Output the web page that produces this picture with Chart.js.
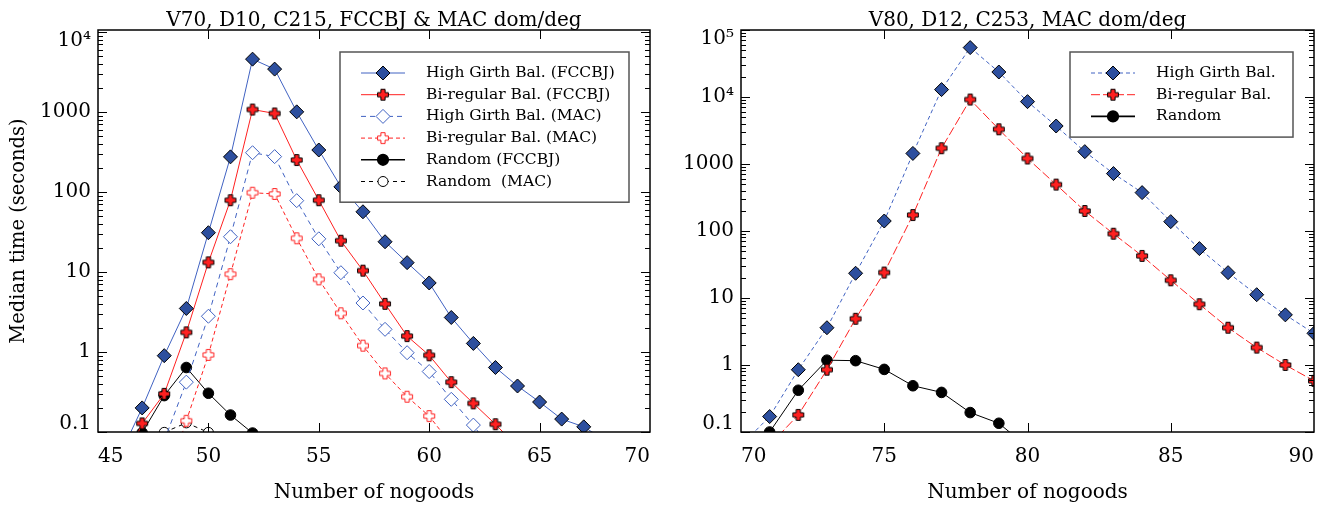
<!DOCTYPE html>
<html>
<head>
<meta charset="utf-8">
<title>Median time vs number of nogoods</title>
<script src="https://cdn.jsdelivr.net/npm/chart.js@4.4.1/dist/chart.umd.min.js"></script>
<style>
  body { margin: 0; background: #fff; }
  #wrap { position: relative; width: 1327px; height: 510px; }
  #leftBox { position: absolute; left: 0; top: 0; width: 663px; height: 510px; }
  #rightBox { position: absolute; left: 663px; top: 0; width: 664px; height: 510px; }
</style>
</head>
<body>
<div id="wrap">
  <div id="leftBox"><canvas id="leftChart" width="663" height="510"></canvas></div>
  <div id="rightBox"><canvas id="rightChart" width="664" height="510"></canvas></div>
</div>
<script>
// left panel: V70, D10, C215
const leftNogoods = [46, 47, 48, 49, 50, 51, 52, 53, 54, 55, 56, 57, 58, 59, 60, 61, 62, 63, 64, 65, 66, 67, 68];
const hgFccbj   = [0.052, 0.2, 0.9, 3.5, 31, 275, 4580, 3440, 1005, 335, 116, 56.6, 23.9, 13.1, 7.3, 2.7, 1.28, 0.64, 0.376, 0.237, 0.145, 0.116, 0.078];
const brFccbj   = [0.03, 0.128, 0.3, 1.76, 13.2, 79, 1075, 960, 251, 79, 24.6, 10.4, 4.0, 1.58, 0.91, 0.42, 0.228, 0.125, 0.065, null, null, null, null];
const hgMac     = [null, null, 0.078, 0.42, 2.8, 27.6, 310, 277, 78, 26, 9.8, 4.1, 1.92, 0.98, 0.57, 0.256, 0.122, 0.05, null, null, null, null, null];
const brMac     = [null, null, 0.02, 0.138, 0.92, 9.4, 98, 94.5, 26.4, 8.1, 3.05, 1.2, 0.54, 0.276, 0.158, 0.07, null, null, null, null, null, null, null];
const randFccbj = [null, 0.098, 0.285, 0.64, 0.305, 0.163, 0.097, 0.05, null, null, null, null, null, null, null, null, null, null, null, null, null, null, null];
const randMac   = [null, null, 0.099, 0.13, 0.099, null, null, null, null, null, null, null, null, null, null, null, null, null, null, null, null, null, null];

// right panel: V80, D12, C253
const rightNogoods = [70, 71, 72, 73, 74, 75, 76, 77, 78, 79, 80, 81, 82, 83, 84, 85, 86, 87, 88, 89, 90];
const hgRight   = [0.063, 0.17, 0.85, 3.6, 23.4, 141, 1437, 12900, 54600, 23600, 8530, 3690, 1530, 720, 374, 138, 54.6, 23.9, 11.2, 5.6, 2.97];
const brRight   = [null, 0.064, 0.18, 0.85, 4.9, 24, 173, 1720, 9160, 3300, 1210, 493, 199, 91, 42.5, 18.4, 8.07, 3.6, 1.82, 1.0, 0.58];
const randRight = [null, 0.1, 0.42, 1.18, 1.16, 0.86, 0.49, 0.39, 0.195, 0.135, 0.06, null, null, null, null, null, null, null, null, null, null];

// axis ticks
const leftYTicks  = [0.1, 1, 10, 100, 1000, 10000];
const leftYLabels = ['0.1', '1', '10', '100', '1000', '10⁴'];
const rightYTicks  = [0.1, 1, 10, 100, 1000, 10000, 100000];
const rightYLabels = ['0.1', '1', '10', '100', '1000', '10⁴', '10⁵'];

const FONT = 'DejaVu Serif';
const BLUE_FILL = '#2d4f9e';
const BLUE = '#4062c2';
const RED = '#ff2020';

function plusMarker(fill, stroke) {
    const c = document.createElement('canvas');
    c.width = 14; c.height = 14;
    const g = c.getContext('2d');
    const m = 7, L = 5.4, w = 2.1;
    g.beginPath();
    g.moveTo(m - w, m - L); g.lineTo(m + w, m - L); g.lineTo(m + w, m - w); g.lineTo(m + L, m - w);
    g.lineTo(m + L, m + w); g.lineTo(m + w, m + w); g.lineTo(m + w, m + L); g.lineTo(m - w, m + L);
    g.lineTo(m - w, m + w); g.lineTo(m - L, m + w); g.lineTo(m - L, m - w); g.lineTo(m - w, m - w);
    g.closePath();
    g.fillStyle = fill; g.fill();
    g.lineWidth = 1; g.strokeStyle = stroke; g.stroke();
    return c;
}
const plusFilled = plusMarker(RED, '#000');
const plusOpen = plusMarker('#fff', RED);

function series(label, xs, ys, style) {
    return Object.assign({
        label: label,
        data: xs.map((x, i) => ({ x: x, y: ys[i] })).filter(p => p.y !== null),
        tension: 0,
        clip: 0,
        borderWidth: 1,
        pointBorderWidth: 1
    }, style);
}

const diamond = { pointStyle: 'rectRot', pointRadius: 7, pointBackgroundColor: BLUE_FILL, pointBorderColor: '#000' };
const diamondOpen = { pointStyle: 'rectRot', pointRadius: 7, pointBackgroundColor: '#fff', pointBorderColor: BLUE };
const dot = { pointStyle: 'circle', pointRadius: 5.3, pointBackgroundColor: '#000', pointBorderColor: '#000' };
const dotOpen = { pointStyle: 'circle', pointRadius: 5, pointBackgroundColor: '#fff', pointBorderColor: '#000' };

// title, inward ticks, frame and boxed legend
function framePlugin(title, legendWidth) {
    return {
        id: 'frame',
        afterDraw(chart) {
            const ctx = chart.ctx;
            const a = chart.chartArea;
            const xs = chart.scales.x, ys = chart.scales.y;
            ctx.save();
            ctx.strokeStyle = '#000';
            ctx.lineWidth = 1;
            ctx.beginPath();
            xs.ticks.forEach(t => {
                const px = Math.round(xs.getPixelForValue(t.value)) + 0.5;
                if (px < a.left + 2 || px > a.right - 2) return;
                ctx.moveTo(px, a.bottom); ctx.lineTo(px, a.bottom - 9);
                ctx.moveTo(px, a.top); ctx.lineTo(px, a.top + 9);
            });
            for (let e = -1; e <= 5; e++) {
                for (let k = 1; k <= 9; k++) {
                    const v = k * Math.pow(10, e);
                    if (v < ys.min * 0.999 || v > ys.max) continue;
                    const py = Math.round(ys.getPixelForValue(v)) + 0.5;
                    const len = k === 1 ? 9 : 5;
                    ctx.moveTo(a.left, py); ctx.lineTo(a.left + len, py);
                    ctx.moveTo(a.right, py); ctx.lineTo(a.right - len, py);
                }
            }
            ctx.stroke();
            ctx.lineWidth = 1.5;
            ctx.strokeRect(a.left, a.top, a.right - a.left, a.bottom - a.top);

            ctx.fillStyle = '#000';
            ctx.font = '20px "' + FONT + '"';
            ctx.textAlign = 'center';
            ctx.textBaseline = 'alphabetic';
            ctx.fillText(title, (a.left + a.right) / 2, 26);

            // legend
            const sets = chart.data.datasets;
            const rowH = 21.7;
            const bx = a.right - 21 - legendWidth, by = a.top + 22;
            const bh = sets.length * rowH + 20;
            ctx.fillStyle = '#fff';
            ctx.fillRect(bx, by, legendWidth, bh);
            ctx.strokeStyle = '#555';
            ctx.lineWidth = 1.5;
            ctx.strokeRect(bx, by, legendWidth, bh);
            sets.forEach((s, i) => {
                const cy = by + 21 + i * rowH;
                ctx.setLineDash(s.borderDash || []);
                ctx.strokeStyle = s.borderColor;
                ctx.lineWidth = s.borderColor === '#000' && !s.borderDash ? 1.6 : 1;
                ctx.beginPath();
                ctx.moveTo(bx + 21, cy); ctx.lineTo(bx + 65, cy);
                ctx.stroke();
                ctx.setLineDash([]);
                ctx.fillStyle = s.pointBackgroundColor || '#fff';
                ctx.strokeStyle = s.pointBorderColor || '#000';
                Chart.helpers.drawPoint(ctx, { pointStyle: s.pointStyle, radius: s.pointRadius, borderWidth: 1, rotation: 0 }, bx + 43, cy);
                ctx.fillStyle = '#000';
                ctx.font = '15.5px "' + FONT + '"';
                ctx.textAlign = 'left';
                ctx.textBaseline = 'middle';
                ctx.fillText(s.label, bx + 86, cy);
            });
            ctx.restore();
        }
    };
}

function yAxis(min, max, tickVals, tickLabels, width, title) {
    return {
        type: 'logarithmic',
        min: min,
        max: max,
        afterBuildTicks: s => { s.ticks = tickVals.map(v => ({ value: v })); },
        afterFit: s => { s.width = width; },
        grid: { display: false, drawTicks: false },
        border: { display: false },
        ticks: {
            padding: 7,
            color: '#000',
            font: { family: FONT, size: 20, lineHeight: 0.85 },
            callback: (v, i, arr) => {
                const lab = tickLabels[tickVals.indexOf(v)];
                if (i === 0) return [lab, ''];
                if (i === arr.length - 1) return ['', lab];
                return lab;
            }
        },
        title: title
            ? { display: true, text: title, color: '#000', font: { family: FONT, size: 19.5 }, padding: { top: 7, bottom: 0 } }
            : { display: false }
    };
}

function xAxis(min, max) {
    return {
        type: 'linear',
        min: min,
        max: max,
        afterFit: s => { s.height = 78; },
        grid: { display: false, drawTicks: false },
        border: { display: false },
        ticks: { stepSize: 5, align: 'inner', padding: 13, color: '#000', font: { family: FONT, size: 20 } },
        title: { display: true, text: 'Number of nogoods', color: '#000', font: { family: FONT, size: 20 }, padding: { top: 0, bottom: 5 } }
    };
}

function makeChart(id, datasets, scales, padRight, plugin) {
    return new Chart(document.getElementById(id).getContext('2d'), {
        type: 'line',
        data: { datasets: datasets },
        options: {
            responsive: false,
            animation: false,
            events: [],
            layout: { padding: { top: 30, right: padRight, left: 0, bottom: 0 } },
            plugins: { legend: { display: false }, title: { display: false }, tooltip: { enabled: false } },
            scales: scales
        },
        plugins: [plugin]
    });
}

makeChart('leftChart', [
    series('High Girth Bal. (FCCBJ)', leftNogoods, hgFccbj, Object.assign({ borderColor: BLUE }, diamond)),
    series('Bi-regular Bal. (FCCBJ)', leftNogoods, brFccbj, { borderColor: RED, pointStyle: plusFilled, pointRadius: 6 }),
    series('High Girth Bal. (MAC)', leftNogoods, hgMac, Object.assign({ borderColor: BLUE, borderDash: [5, 4] }, diamondOpen)),
    series('Bi-regular Bal. (MAC)', leftNogoods, brMac, { borderColor: RED, borderDash: [4, 3], pointStyle: plusOpen, pointRadius: 6 }),
    series('Random (FCCBJ)', leftNogoods, randFccbj, Object.assign({ borderColor: '#000' }, dot)),
    series('Random  (MAC)', leftNogoods, randMac, Object.assign({ borderColor: '#000', borderDash: [4, 4] }, dotOpen))
], {
    x: xAxis(45, 70),
    y: yAxis(0.1, 10600, leftYTicks, leftYLabels, 98, 'Median time (seconds)')
}, 10, framePlugin('V70, D10, C215, FCCBJ & MAC dom/deg', 289));

makeChart('rightChart', [
    series('High Girth Bal.', rightNogoods, hgRight, Object.assign({ borderColor: BLUE, borderDash: [4, 3] }, diamond)),
    series('Bi-regular Bal.', rightNogoods, brRight, { borderColor: RED, borderDash: [9, 3], pointStyle: plusFilled, pointRadius: 6 }),
    series('Random', rightNogoods, randRight, Object.assign({ borderColor: '#000' }, dot))
], {
    x: xAxis(70, 90),
    y: yAxis(0.1, 100000, rightYTicks, rightYLabels, 78, null)
}, 9, framePlugin('V80, D12, C253, MAC dom/deg', 223));
</script>
</body>
</html>
